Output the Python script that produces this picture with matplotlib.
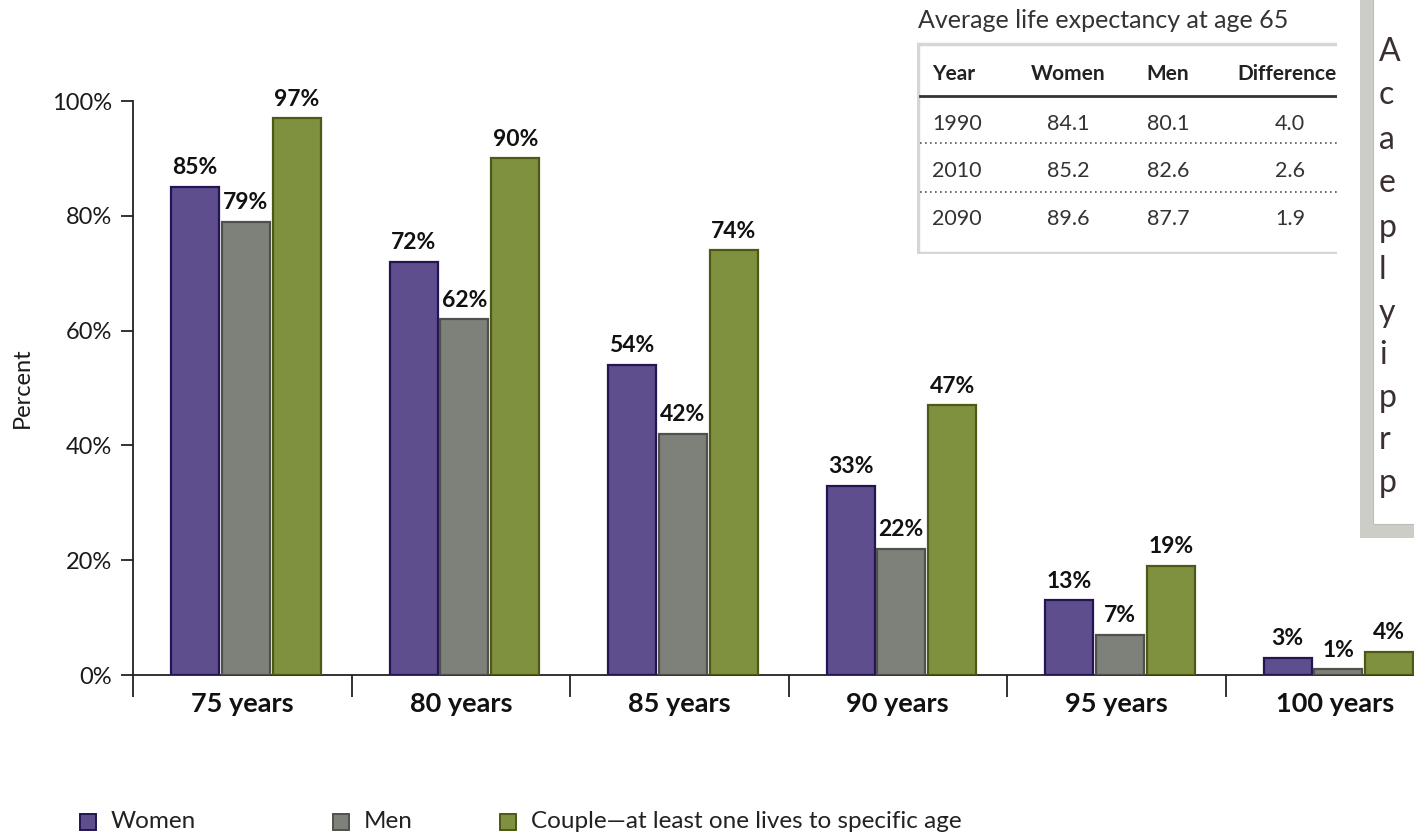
import matplotlib
matplotlib.use("Agg")
import matplotlib.pyplot as plt
import numpy as np
from matplotlib.lines import Line2D
from matplotlib.patches import Rectangle

plt.rcParams['font.family'] = ['Lato', 'DejaVu Sans']

# ---- survival probabilities from age 65 ----
ages = ["75 years", "80 years", "85 years", "90 years", "95 years", "100 years"]
women = [85, 72, 54, 33, 13, 3]
men = [79, 62, 42, 22, 7, 1]
couple = [97, 90, 74, 47, 19, 4]
series_names = ["Women", "Men", "Couple\u2014at least one lives to specific age"]
yticks = [0, 20, 40, 60, 80, 100]

# ---- life expectancy table ----
table_title = "Average life expectancy at age 65"
table_header = ["Year", "Women", "Men", "Difference"]
table_years = ["1990", "2010", "2090"]
table_women = ["84.1", "85.2", "89.6"]
table_men = ["80.1", "82.6", "87.7"]
table_diff = ["4.0", "2.6", "1.9"]

# paragraph initials of the side panel
side_letters = ["A", "c", "a", "e", "p", "l", "y", "i", "p", "r", "p"]

fills = ["#5e4e8d", "#7e817a", "#7f913f"]
edges = ["#241552", "#4f524c", "#4b5a14"]

W, H = 1414, 836
fig = plt.figure(figsize=(W / 100, H / 100), dpi=100)

def fx(px):
    return px / W

def fy(py):
    return 1 - py / H

ax = fig.add_axes([fx(133), fy(675), fx(1444) - fx(133), fy(101) - fy(675)])
x = np.arange(len(ages)) + 0.5
bw = 0.22
offs = [-0.216, 0.016, 0.250]
for vals, f, e, o in zip([women, men, couple], fills, edges, offs):
    bars = ax.bar(x + o, vals, width=bw, color=f, edgecolor=e, linewidth=1.6, zorder=3)
    for b, v in zip(bars, vals):
        ax.text(b.get_x() + b.get_width() / 2, v + 1.5, f"{v}%", ha="center", va="bottom",
                fontsize=16.5, fontweight="bold", color="#111111", clip_on=False)

ax.set_xlim(0, len(ages))
ax.set_ylim(0, 100)
ax.set_yticks(yticks)
ax.set_yticklabels([f"{t}%" for t in yticks], fontsize=17, color="#1a1a1a")
ax.set_xticks(x)
ax.set_xticklabels(ages, fontsize=19.5, fontweight="bold", color="#111111")
ax.set_xticks(np.arange(len(ages) + 1), minor=True)
ax.tick_params(axis="x", which="major", length=0, pad=12)
ax.tick_params(axis="x", which="minor", length=16, width=1.3, color="#222222", direction="out")
ax.tick_params(axis="y", length=9, width=1.3, color="#222222", pad=6)
for s in ["top", "right"]:
    ax.spines[s].set_visible(False)
for s in ["left", "bottom"]:
    ax.spines[s].set_linewidth(1.3)
    ax.spines[s].set_color("#222222")
ax.set_ylabel("Percent", fontsize=17, color="#1a1a1a", labelpad=14)

# ---- legend along the bottom ----
leg_x = [80, 333, 500]
for name, f, e, lx in zip(series_names, fills, edges, leg_x):
    fig.patches.append(Rectangle((fx(lx), fy(830)), 16 / W, 16 / H, transform=fig.transFigure,
                                 facecolor=f, edgecolor=e, linewidth=1.4))
    fig.text(fx(lx + 31), fy(822), name, fontsize=17.5, color="#222222", va="center", ha="left")

# ---- life expectancy table (inset) ----
fig.text(fx(918), fy(21), table_title, fontsize=18, color="#333333", va="center", ha="left")
tab = fig.add_axes([fx(917), fy(254), fx(1337) - fx(917), fy(42) - fy(254)])
tab.set_xlim(917, 1337)
tab.set_ylim(254, 42)
tab.axis("off")
tab.add_patch(Rectangle((918.5, 43.5), 440, 209, facecolor="white", edgecolor="#d6d6d6", linewidth=2.5))
col_x = [932, 1068, 1168, 1237]
col_ha = ["left", "center", "center", "left"]
for cx, ha, t in zip(col_x, col_ha, table_header):
    tab.text(cx, 74, t, fontsize=15, fontweight="bold", color="#222222", ha=ha, va="center", clip_on=True)
tab.add_line(Line2D([920, 1337], [96, 96], color="#333333", linewidth=2))
row_y = [124, 171, 219]
val_x = [932, 1068, 1168, 1290]
val_ha = ["left", "center", "center", "center"]
for i, ry in enumerate(row_y):
    row = [table_years[i], table_women[i], table_men[i], table_diff[i]]
    for cx, ha, t in zip(val_x, val_ha, row):
        tab.text(cx, ry, t, fontsize=15.5, color="#333333", ha=ha, va="center", clip_on=True)
for dy in [143, 192]:
    tab.add_line(Line2D([920, 1337], [dy, dy], color="#555555", linewidth=1.2, linestyle=(0, (1, 2))))

# ---- side panel frame and its paragraph ----
fig.patches.append(Rectangle((fx(1360), fy(538)), fx(1420) - fx(1360), fy(-5) - fy(538),
                             transform=fig.transFigure, facecolor="#cdcdc8", edgecolor="none"))
fig.patches.append(Rectangle((fx(1373), fy(524)), fx(1420) - fx(1373), fy(-5) - fy(524),
                             transform=fig.transFigure, facecolor="white", edgecolor="#bdbdb8",
                             linewidth=0.8))
side_y = [52, 95, 140, 183, 228, 270, 313, 355, 398, 440, 483]
for ly, ch in zip(side_y, side_letters):
    fig.text(fx(1379), fy(ly), ch, fontsize=23, color="#3a3030", ha="left", va="center")

fig.savefig("out.png", dpi=100)
